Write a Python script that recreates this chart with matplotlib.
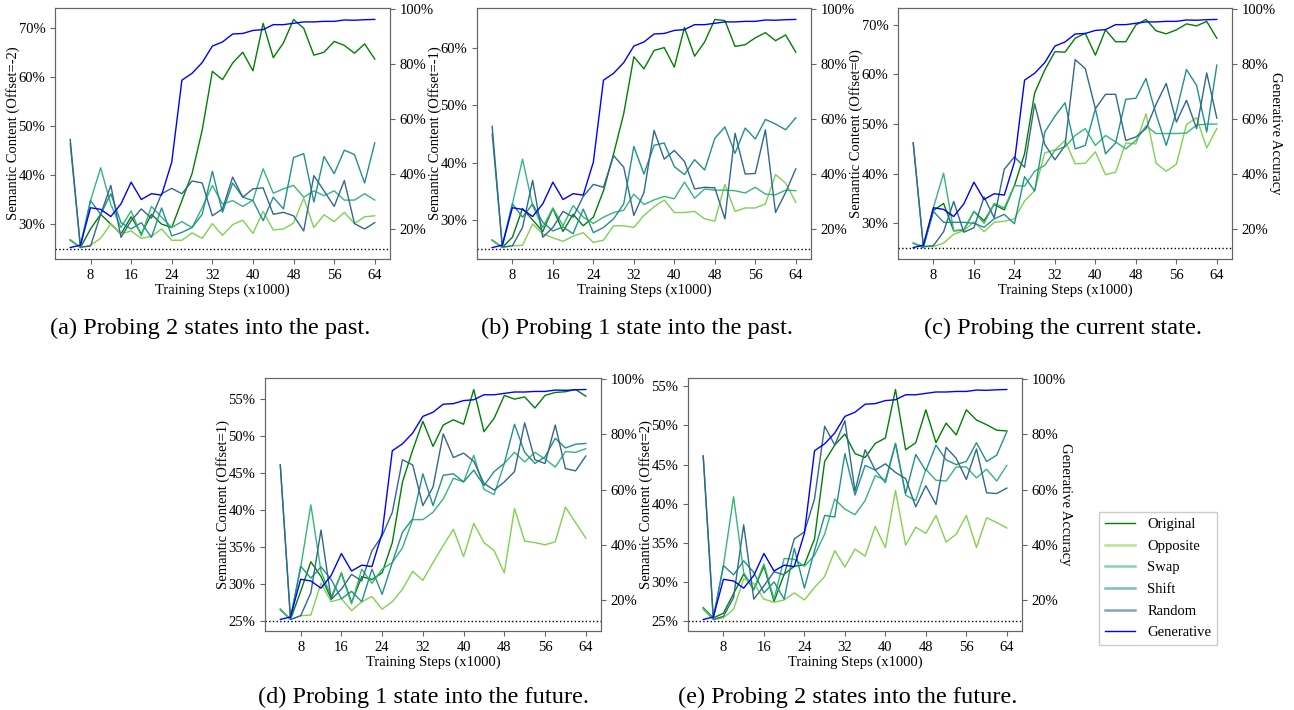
import numpy as np
import matplotlib.pyplot as plt
from matplotlib.lines import Line2D
from matplotlib.ticker import MultipleLocator, PercentFormatter

plt.rcParams['font.family'] = ['Liberation Serif', 'DejaVu Serif']
plt.rcParams['font.size'] = 10.5

steps = np.arange(4, 66, 2)  # training steps (x1000)

# generative accuracy of the model, shared by every probe
generative = [13.1, 14.0, 27.6, 27.0, 24.4, 29.0, 36.9, 30.6, 32.7, 32.2, 44.2,
              74.0, 76.5, 80.4, 86.4, 87.9, 90.8, 91.0, 92.1, 92.4, 94.2, 94.2,
              94.7, 95.2, 95.2, 95.4, 95.4, 95.9, 95.8, 96.0, 96.1]

# offset = -2
original_m2 = [26.7, 25.2, 29.0, 32.0, 30.0, 28.0, 31.5, 28.0, 32.0, 30.0, 29.3,
               34.8, 40.3, 49.2, 61.2, 59.5, 62.9, 65.1, 61.3, 71.0, 64.0, 67.0,
               71.8, 70.0, 64.5, 65.1, 67.3, 66.5, 64.9, 66.8, 63.7]
opposite_m2 = [26.8, 25.2, 25.7, 27.1, 30.1, 28.0, 28.6, 27.1, 27.5, 29.0, 26.7,
               26.7, 28.2, 27.1, 30.1, 27.7, 29.9, 30.8, 28.1, 32.6, 28.8, 29.0,
               30.2, 35.3, 29.3, 31.9, 30.5, 32.4, 30.1, 31.5, 31.7]
swap_m2 = [26.8, 25.3, 34.8, 41.5, 34.0, 29.3, 32.7, 27.6, 33.6, 31.4, 29.3,
           30.5, 29.3, 33.4, 37.9, 34.1, 34.8, 33.6, 34.9, 41.3, 36.3, 37.2,
           37.9, 35.5, 36.8, 35.8, 36.8, 34.9, 34.9, 36.2, 34.9]
shift_m2 = [46.4, 25.5, 34.8, 32.0, 36.2, 30.3, 29.0, 30.3, 27.3, 33.3, 27.6,
            28.3, 29.3, 32.0, 40.8, 32.4, 38.4, 35.5, 34.8, 30.7, 35.5, 33.1,
            43.6, 44.4, 34.5, 43.8, 40.3, 45.1, 44.2, 38.4, 46.6]
random_m2 = [47.3, 25.3, 25.5, 32.0, 37.9, 27.3, 30.7, 33.1, 31.2, 36.2, 37.3,
             36.2, 38.8, 38.4, 31.7, 33.1, 39.6, 35.5, 37.2, 37.4, 32.0, 32.4,
             31.7, 28.6, 39.9, 36.8, 33.6, 38.9, 30.1, 29.0, 30.3]

# offset = -1
original_m1 = [26.5, 25.2, 27.0, 32.0, 30.0, 28.0, 32.0, 28.0, 31.0, 29.0, 30.5,
               35.1, 41.5, 48.5, 58.4, 56.3, 59.5, 60.0, 56.6, 63.5, 58.5, 61.0,
               64.9, 64.7, 60.2, 60.5, 61.7, 62.6, 61.2, 62.2, 59.2]
opposite_m1 = [26.5, 25.2, 25.5, 25.6, 29.3, 27.6, 26.9, 26.3, 27.2, 27.8, 26.1,
               26.5, 29.0, 29.0, 28.7, 30.8, 32.3, 33.5, 31.3, 31.3, 31.5, 30.2,
               29.8, 36.2, 31.5, 32.1, 32.1, 32.8, 37.9, 36.4, 33.1]
swap_m1 = [26.5, 25.3, 32.8, 40.6, 32.5, 28.7, 32.1, 29.0, 32.5, 30.5, 29.4,
           30.5, 31.3, 31.7, 34.5, 32.7, 33.5, 34.1, 33.7, 36.6, 33.8, 35.4,
           35.2, 35.2, 35.1, 34.7, 35.7, 34.5, 34.4, 35.2, 35.1]
shift_m1 = [45.0, 25.5, 32.8, 30.5, 32.8, 29.6, 28.1, 28.8, 27.6, 31.9, 27.8,
            28.7, 30.2, 32.8, 42.8, 38.0, 43.0, 43.4, 39.3, 37.9, 40.5, 38.7,
            44.2, 46.2, 41.6, 46.0, 44.1, 47.5, 46.7, 45.7, 47.8]
random_m1 = [46.3, 25.3, 25.5, 28.7, 36.9, 27.0, 28.7, 31.5, 30.5, 34.1, 36.2,
             35.7, 41.2, 39.2, 30.8, 34.8, 45.6, 40.6, 42.1, 40.2, 35.4, 35.7,
             35.6, 30.2, 45.1, 38.0, 38.1, 45.7, 31.3, 34.8, 38.9]

# offset = 0
original_0 = [26.0, 25.1, 32.6, 34.0, 28.5, 28.6, 32.4, 30.5, 33.8, 32.7, 37.6,
              44.0, 56.3, 60.9, 64.6, 64.5, 67.3, 68.3, 63.9, 69.0, 66.6, 66.6,
              70.0, 71.1, 68.8, 68.2, 69.0, 70.2, 69.8, 70.7, 67.3]
opposite_0 = [26.0, 25.3, 25.3, 26.0, 27.8, 28.5, 30.3, 28.3, 30.2, 30.4, 30.9,
              34.5, 36.6, 44.2, 44.8, 46.7, 42.0, 42.1, 44.4, 39.8, 40.3, 46.2,
              46.0, 52.1, 42.1, 40.5, 41.9, 49.9, 51.3, 45.2, 49.1]
swap_0 = [26.0, 25.3, 33.2, 40.1, 28.5, 28.7, 32.4, 30.0, 34.0, 33.1, 37.6,
          37.5, 40.5, 41.7, 44.7, 45.4, 47.7, 49.1, 45.7, 47.7, 46.4, 45.0,
          46.7, 49.6, 48.1, 48.1, 48.1, 48.2, 49.8, 50.0, 50.0]
shift_0 = [46.2, 25.5, 32.4, 30.2, 30.2, 30.2, 30.0, 29.2, 30.9, 31.8, 29.9,
           39.4, 36.5, 48.4, 51.6, 54.3, 45.0, 45.7, 53.1, 44.0, 46.2, 55.0,
           55.2, 59.2, 51.9, 45.7, 52.5, 61.0, 57.8, 48.4, 61.9]
random_0 = [46.2, 25.3, 25.5, 28.3, 34.4, 28.2, 29.1, 35.3, 31.1, 40.9, 43.4,
            41.3, 54.1, 45.9, 42.8, 45.7, 63.0, 61.2, 53.1, 56.0, 56.0, 46.7,
            47.4, 49.1, 54.0, 58.2, 50.4, 54.8, 49.1, 60.3, 51.2]

# offset = 1
original_p1 = [26.6, 25.2, 29.0, 33.0, 31.0, 28.0, 31.5, 27.5, 31.0, 30.6, 31.5,
               35.6, 43.8, 48.1, 52.0, 48.6, 51.5, 52.2, 51.6, 56.3, 50.6, 52.4,
               55.5, 55.0, 55.3, 53.8, 55.5, 55.9, 56.0, 56.3, 55.4]
opposite_p1 = [26.5, 25.2, 25.7, 25.8, 30.1, 27.6, 28.0, 26.4, 27.6, 28.3, 26.6,
               27.6, 29.3, 31.7, 30.5, 32.9, 35.2, 37.4, 33.7, 38.2, 35.6, 34.5,
               31.5, 40.2, 35.8, 35.6, 35.3, 35.7, 40.4, 38.3, 36.2]
swap_p1 = [26.5, 25.2, 32.2, 40.7, 31.7, 28.3, 31.4, 27.3, 32.0, 30.1, 32.0,
           32.9, 34.9, 38.7, 38.7, 39.7, 41.5, 44.3, 43.8, 47.4, 42.8, 42.1,
           46.3, 47.8, 46.5, 47.8, 46.9, 45.8, 47.9, 47.8, 48.3]
shift_p1 = [46.1, 25.4, 32.4, 30.8, 32.3, 30.6, 28.0, 29.0, 27.6, 32.0, 28.6,
            32.9, 37.0, 38.8, 44.9, 40.6, 44.7, 44.9, 43.8, 45.4, 43.3, 45.2,
            46.3, 51.6, 47.8, 46.3, 47.2, 49.7, 48.4, 48.9, 49.0]
random_p1 = [46.1, 25.2, 25.7, 28.8, 37.3, 27.9, 29.3, 31.3, 30.4, 34.5, 36.5,
             39.7, 46.8, 46.1, 40.6, 43.1, 50.3, 47.1, 47.7, 46.6, 43.6, 42.7,
             43.8, 45.2, 51.8, 46.8, 46.3, 51.5, 45.6, 45.3, 47.3]

# offset = 2
original_p2 = [26.7, 25.4, 26.0, 28.5, 31.0, 29.0, 32.0, 27.5, 31.0, 32.0, 32.2,
               35.5, 45.4, 47.5, 48.9, 46.4, 45.9, 47.7, 48.4, 54.6, 46.9, 47.8,
               52.0, 47.8, 50.3, 48.8, 52.0, 50.7, 50.1, 49.4, 49.3]
opposite_p2 = [26.5, 25.2, 25.4, 26.5, 30.4, 29.8, 27.8, 27.4, 27.7, 28.6, 27.7,
               29.3, 30.7, 34.0, 31.9, 34.2, 33.3, 37.1, 34.4, 41.7, 34.7, 37.0,
               36.2, 38.5, 35.1, 36.1, 38.5, 34.4, 38.2, 37.6, 36.9]
swap_p2 = [26.6, 25.3, 32.1, 40.9, 31.2, 29.1, 32.3, 27.8, 33.0, 32.9, 32.0,
           33.4, 36.1, 40.6, 39.3, 38.6, 40.4, 43.6, 43.0, 47.7, 41.1, 40.4,
           44.4, 43.0, 42.9, 44.7, 44.7, 43.3, 44.4, 42.9, 44.9]
shift_p2 = [46.1, 25.4, 32.1, 30.9, 32.7, 31.2, 28.6, 30.0, 27.8, 34.3, 29.2,
            34.0, 38.5, 38.3, 46.4, 41.1, 44.9, 44.3, 42.7, 47.7, 41.3, 46.3,
            44.2, 47.5, 45.6, 45.0, 45.4, 47.8, 45.4, 46.2, 49.2]
random_p2 = [46.1, 25.2, 25.6, 28.0, 37.3, 27.8, 29.5, 31.3, 30.9, 35.5, 36.4,
             40.6, 49.9, 47.5, 50.6, 41.6, 46.9, 44.3, 45.1, 44.0, 43.2, 39.6,
             42.3, 39.9, 47.2, 45.8, 43.1, 47.0, 41.4, 41.3, 42.0]

series_names = ['Original', 'Opposite', 'Swap', 'Shift', 'Random']
series_colors = ['green', '#7fd34e', '#35b779', '#21918c', '#31688e']

# (offset, series, y tick step, caption, axes rect, caption centre, right label)
panels = [
    ('-2', [original_m2, opposite_m2, swap_m2, shift_m2, random_m2], 10,
     '(a) Probing 2 states into the past.', [0.0425, 0.6352, 0.2589, 0.3535],
     (0.1623, 0.538), False),
    ('-1', [original_m1, opposite_m1, swap_m1, shift_m1, random_m1], 10,
     '(b) Probing 1 state into the past.', [0.3686, 0.6352, 0.2581, 0.3535],
     (0.4923, 0.538), False),
    ('0', [original_0, opposite_0, swap_0, shift_0, random_0], 10,
     '(c) Probing the current state.', [0.6940, 0.6352, 0.2581, 0.3535],
     (0.8215, 0.538), True),
    ('1', [original_p1, opposite_p1, swap_p1, shift_p1, random_p1], 5,
     '(d) Probing 1 state into the future.', [0.2048, 0.1113, 0.2597, 0.3563],
     (0.3269, 0.018), False),
    ('2', [original_p2, opposite_p2, swap_p2, shift_p2, random_p2], 5,
     '(e) Probing 2 states into the future.', [0.5317, 0.1113, 0.2581, 0.3563],
     (0.6553, 0.018), True),
]

fig = plt.figure(figsize=(12.94, 7.10), dpi=100)

for offset, series, ystep, caption, rect, cap_xy, right_label in panels:
    ax = fig.add_axes(rect)
    for vals, name, col in zip(series, series_names, series_colors):
        ax.plot(steps, vals, color=col, lw=1.0, label=name)
    ax.axhline(25, color='black', ls=':', lw=1.0)
    ax.set_xticks(np.arange(8, 65, 8))
    ax.yaxis.set_major_locator(MultipleLocator(ystep))
    ax.yaxis.set_major_formatter(PercentFormatter(decimals=0))
    ax.set_xlabel('Training Steps (x1000)', labelpad=1)
    ax.set_ylabel(f'Semantic Content (Offset={offset})')
    ax.yaxis.set_label_coords(-0.105, 0.5)

    ax2 = ax.twinx()
    ax2.plot(steps, generative, color='blue', lw=1.0, label='Generative')
    ax2.yaxis.set_major_locator(MultipleLocator(20))
    ax2.yaxis.set_major_formatter(PercentFormatter(decimals=0))
    if right_label:
        ax2.set_ylabel('Generative Accuracy', rotation=270, va='bottom')
        ax2.yaxis.set_label_coords(1.11, 0.5)

    for a in (ax, ax2):
        for sp in a.spines.values():
            sp.set_color('0.4')
        a.tick_params(color='0.4')

    fig.text(cap_xy[0], cap_xy[1], caption, ha='center', va='center', fontsize=17.5)

# legend entries for the probe variants are drawn lighter and a bit thicker
handles = [Line2D([], [], color='green', lw=1.0)]
handles += [Line2D([], [], color=c, lw=1.8, alpha=0.6) for c in series_colors[1:]]
handles += [Line2D([], [], color='blue', lw=1.0)]
fig.legend(handles, series_names + ['Generative'], loc='upper left',
           bbox_to_anchor=(0.8493, 0.279), borderaxespad=0, fontsize=10.5,
           handlelength=2.1, labelspacing=0.58, fancybox=False,
           edgecolor='0.8', framealpha=1)

fig.savefig('out.png', dpi=100)
